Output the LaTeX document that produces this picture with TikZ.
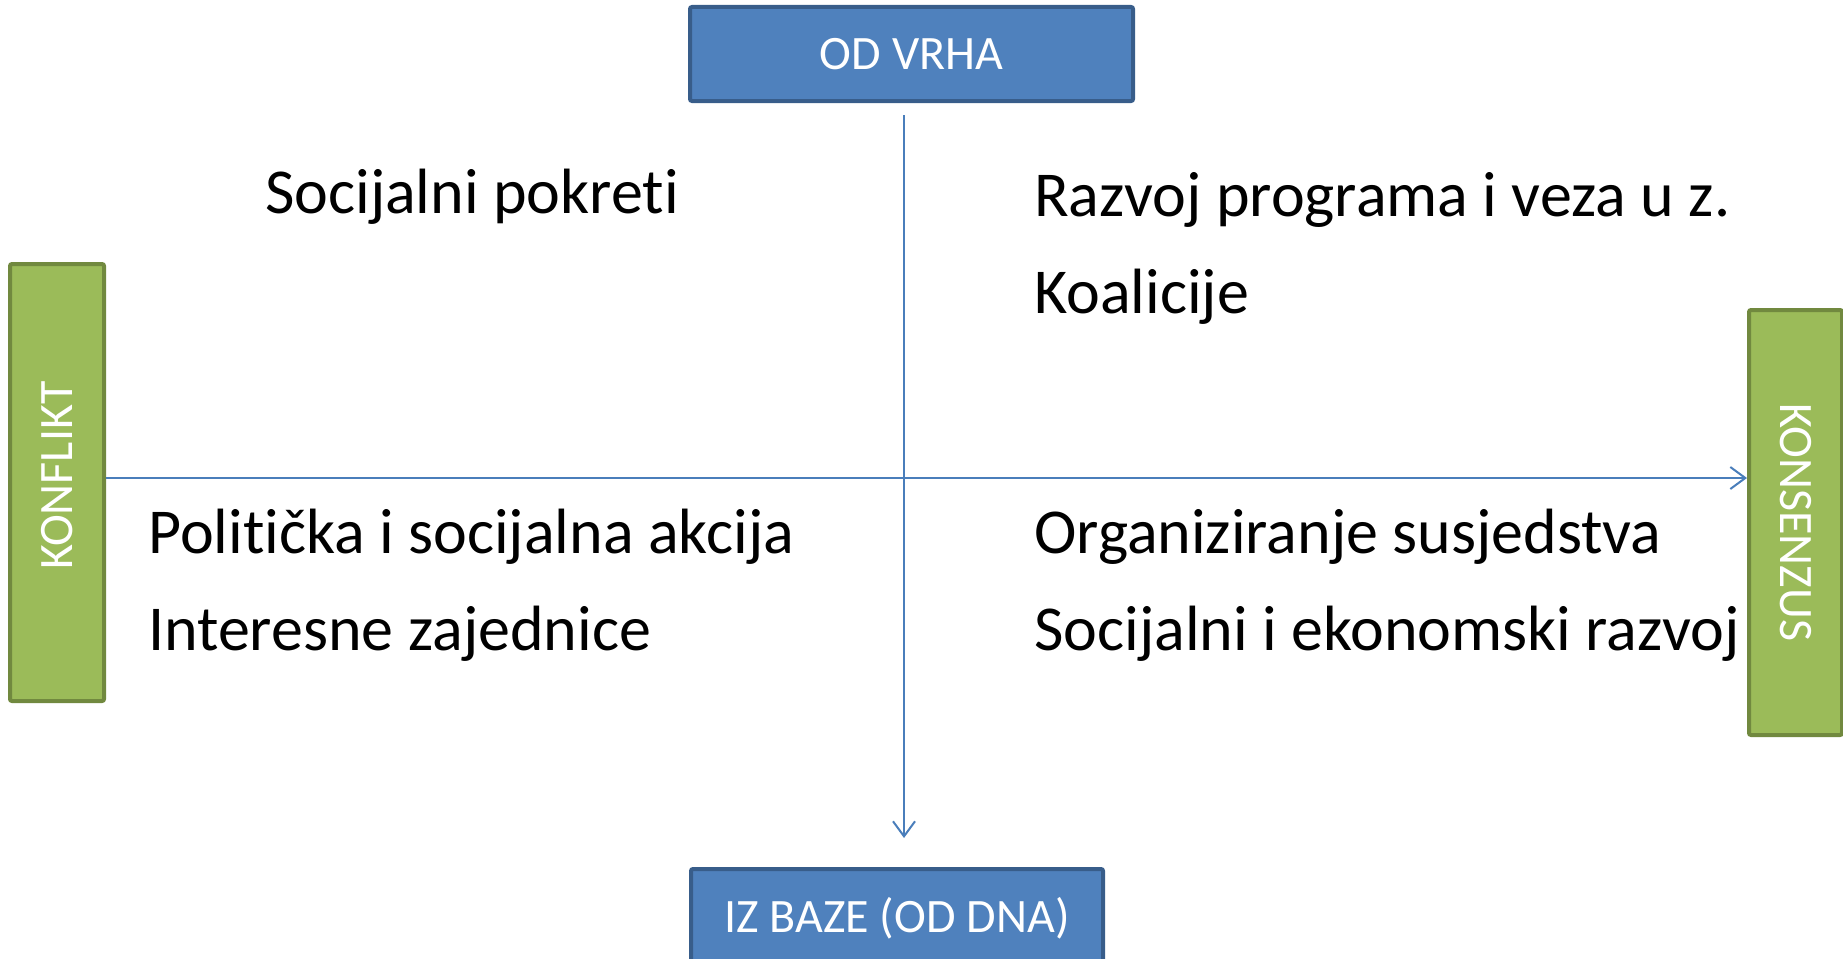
\documentclass[tikz,border=0pt]{standalone}
\usepackage{fontspec}
\setmainfont{Carlito}[Ligatures=NoCommon]
\usetikzlibrary{arrows.meta}
\definecolor{boxblue}{HTML}{4F81BD}
\definecolor{boxblueline}{HTML}{385D8A}
\definecolor{boxgreen}{HTML}{9BBB59}
\definecolor{boxgreenline}{HTML}{71893F}
\definecolor{axisblue}{HTML}{4A7EBB}
\tikzset{
  bluebox/.style={draw=boxblueline, fill=boxblue, line width=4pt, rounded corners=2pt,
    text=white, font=\fontsize{48}{58}\selectfont, text height=31pt, text depth=0pt,
    inner sep=0pt, minimum width=443pt, minimum height=94pt},
  greenbox/.style={draw=boxgreenline, fill=boxgreen, line width=4pt, rounded corners=2pt,
    text=white, font=\fontsize{48}{58}\selectfont, text height=31pt, text depth=0pt,
    inner sep=0pt, minimum height=94pt},
  quadtext/.style={anchor=base west, inner sep=0pt, font=\fontsize{64}{76}\selectfont, text=black},
  axis/.style={draw=axisblue, line width=2pt, -{Straight Barb[length=15pt,width=22pt,line width=2pt]}}
}
\begin{document}
\begin{tikzpicture}[x=1pt,y=-1pt]
\useasboundingbox (0,0) rectangle (1843,958);
\clip (0,0) rectangle (1843,958);
% boxes
\node[bluebox] (top) at (911.5,54) {OD VRHA};
\node[bluebox, minimum width=412pt, minimum height=95pt] (bottom) at (897,916.5) {IZ BAZE (OD DNA)};
\node[greenbox, rotate=90, minimum width=437pt] (konflikt) at (57,482.5) {\hspace*{14pt}KONFLIKT};
\node[greenbox, rotate=-90, minimum width=425pt, minimum height=93pt] (konsenzus) at (1795.5,522.5) {KONSENZUS};
% axes
\coordinate (vstart) at (904,115);
\coordinate (vend) at (904,838);
\coordinate (hstart) at (konflikt.south |- 0,478);
\coordinate (hend) at (konsenzus.south |- 0,478);
\draw[axis] (vstart) -- (vend);
\draw[axis] (hstart) -- (hend);
% quadrant texts
\node[quadtext] (q1) at (265,213) {Socijalni pokreti};
\node[quadtext] (q2a) at (1034,216) {Razvoj programa i veza u z.};
\node[quadtext] (q2b) at (1034,313) {Koalicije};
\node[quadtext] (q3a) at (148,553) {Politička i socijalna akcija};
\node[quadtext] (q3b) at (148,650) {Interesne zajednice};
\node[quadtext] (q4a) at (1034,553) {Organiziranje susjedstva};
\node[quadtext] (q4b) at (1034,650) {Socijalni i ekonomski razvoj};
\end{tikzpicture}
\end{document}
